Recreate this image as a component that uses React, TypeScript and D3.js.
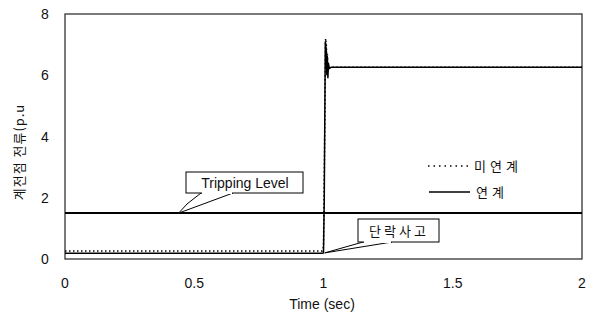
import React from "react";
import * as d3 from "d3";

const xTicks = [0, 0.5, 1, 1.5, 2];
const xTickLabels = ["0", "0.5", "1", "1.5", "2"];
const yTicks = [0, 2, 4, 6, 8];
const yTickLabels = ["0", "2", "4", "6", "8"];

// 미연계 (dotted)
const noLinkT = [0, 0.995, 1.0, 1.004, 1.008, 1.011, 1.013, 1.015, 1.017, 1.019, 1.023, 1.03, 2];
const noLinkV = [0.26, 0.26, 0.4, 3.5, 7.2, 7.0, 6.4, 6.7, 6.1, 6.35, 6.25, 6.26, 6.26];
// 연계 (solid)
const linkT = [0, 0.995, 1.0, 1.003, 1.007, 1.011, 1.013, 1.015, 1.017, 1.019, 1.022, 1.03, 2];
const linkV = [0.19, 0.19, 0.2, 2.0, 7.1, 6.8, 6.0, 6.6, 5.9, 6.4, 6.22, 6.26, 6.26];
const tripT = [0, 2];
const tripV = [1.5, 1.5];

export default function App() {
  const W = 593, H = 319;
  const x = d3.scaleLinear().domain([0, 2]).range([65, 582]);
  const y = d3.scaleLinear().domain([0, 8]).range([259, 14]);
  const line = d3.line<[number, number]>().x(d => x(d[0])).y(d => y(d[1]));
  const noLink = noLinkT.map((t, i) => [t, noLinkV[i]] as [number, number]);
  const link = linkT.map((t, i) => [t, linkV[i]] as [number, number]);
  const trip = tripT.map((t, i) => [t, tripV[i]] as [number, number]);
  const font = "'Liberation Sans', Arial, sans-serif";
  const kfont = "'Noto Sans CJK KR', sans-serif";
  const tx = x(0.44), ty = y(1.5);
  const sx = x(1.005), sy = y(0.2);
  return (
    <svg width={W} height={H} style={{ position: "absolute", left: 0, top: 0 }}>
      <rect x={0} y={0} width={W} height={H} fill="#fff" />
      <rect x={x(0)} y={y(8)} width={x(2) - x(0)} height={y(0) - y(8)} fill="none" stroke="#222" strokeWidth={1.2} />
      <path d={line(trip) || ""} fill="none" stroke="#000" strokeWidth={2} />
      <path d={line(link) || ""} fill="none" stroke="#000" strokeWidth={1.5} />
      <path d={line(noLink) || ""} fill="none" stroke="#000" strokeWidth={1.5} strokeDasharray="1.5,2.5" />
      {xTicks.map((t, i) => (
        <text key={"x" + i} x={x(t)} y={288} textAnchor="middle" fontFamily={font} fontSize={14} fill="#111">{xTickLabels[i]}</text>
      ))}
      {yTicks.map((t, i) => (
        <text key={"y" + i} x={45} y={y(t) + 5} textAnchor="middle" fontFamily={font} fontSize={14} fill="#111">{yTickLabels[i]}</text>
      ))}
      <text x={322} y={309} textAnchor="middle" fontFamily={font} fontSize={14} fill="#111">Time (sec)</text>
      <text transform={`translate(24,152) rotate(-90)`} textAnchor="middle" fontFamily={kfont} fontSize={13} letterSpacing={1} fill="#111">계전점 전류(p.u</text>
      {/* legend */}
      <line x1={428} x2={470} y1={166} y2={166} stroke="#000" strokeWidth={1.5} strokeDasharray="1.5,4" />
      <text x={474} y={171} fontFamily={kfont} fontSize={13} letterSpacing={4} fill="#111">미연계</text>
      <line x1={429} x2={470} y1={192} y2={192} stroke="#000" strokeWidth={1.5} />
      <text x={476} y={197} fontFamily={kfont} fontSize={13} letterSpacing={4} fill="#111">연계</text>
      {/* Tripping Level callout */}
      <polygon points={`201,193 187,204 ${tx},${ty} 233,193`} fill="#fff" stroke="#000" strokeWidth={1} />
      <rect x={186} y={172} width={117} height={21} fill="#fff" stroke="#000" strokeWidth={1} />
      <line x1={202} x2={232} y1={193} y2={193} stroke="#fff" strokeWidth={2} />
      <text x={245} y={188} textAnchor="middle" fontFamily={font} fontSize={14} fill="#111">Tripping Level</text>
      {/* 단락사고 callout */}
      <polygon points={`363,242 ${sx},${sy} 392,242`} fill="#fff" stroke="#000" strokeWidth={1} />
      <rect x={358} y={219} width={81} height={23} fill="#fff" stroke="#000" strokeWidth={1} />
      <line x1={364} x2={391} y1={242} y2={242} stroke="#fff" strokeWidth={2} />
      <text x={399} y={236} textAnchor="middle" fontFamily={kfont} fontSize={13} letterSpacing={3} fill="#111">단락사고</text>
    </svg>
  );
}
